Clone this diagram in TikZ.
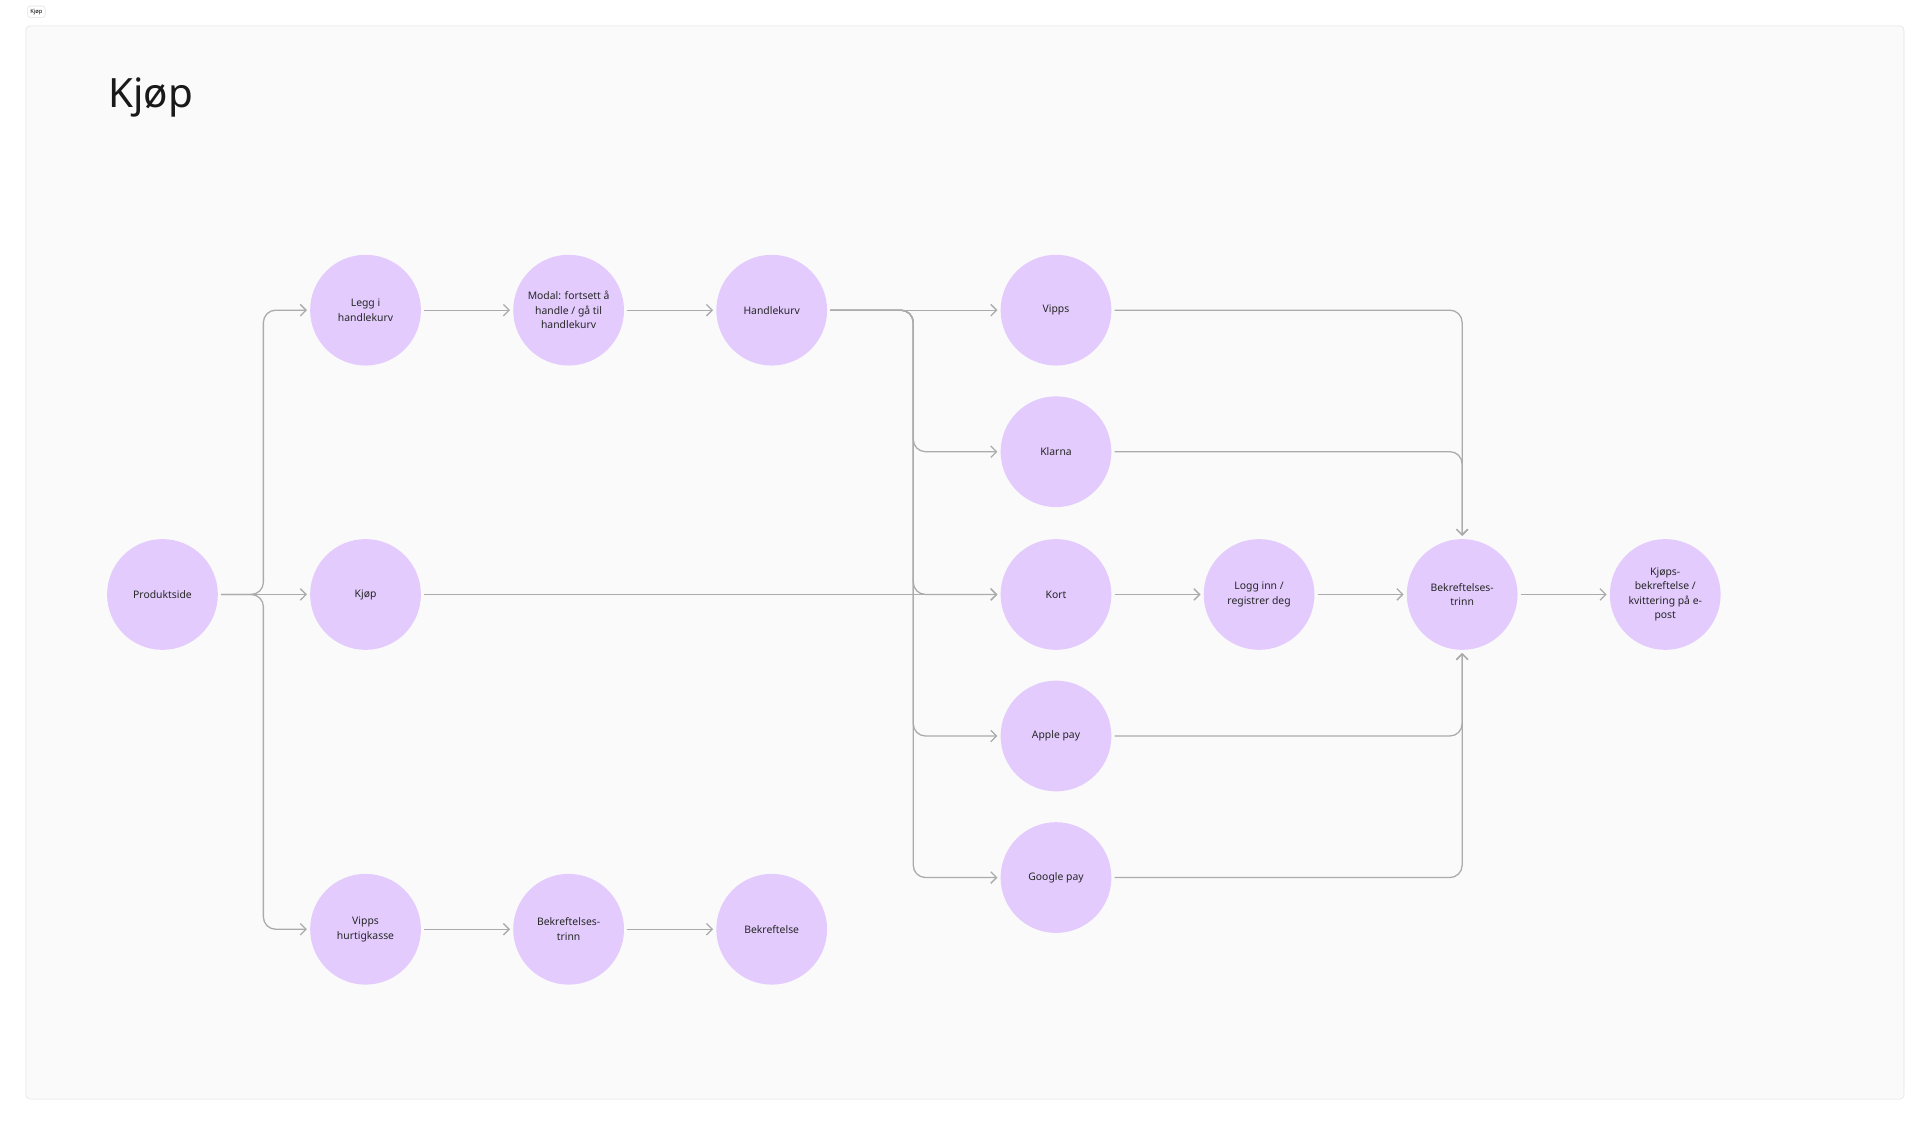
\documentclass[tikz,border=0pt]{standalone}
\usepackage{fontspec}
\setmainfont{Noto Sans}
\usetikzlibrary{arrows.meta}
\definecolor{circfill}{HTML}{E3CCFD}
\definecolor{linegray}{HTML}{ABABAB}
\definecolor{framebg}{HTML}{FAFAFA}
\definecolor{frameline}{HTML}{E2E2E2}
\tikzset{
  stepnode/.style={circle,fill=circfill,minimum size=2.7cm,inner sep=0pt,align=center,
    font=\fontsize{7.2}{10}\selectfont,text=black!85},
  flow/.style={draw=linegray,line width=0.9pt,rounded corners=0.3cm,
    -{Straight Barb[length=4pt,width=8pt]},shorten >=2pt,shorten <=2pt}
}
\begin{document}
\begin{tikzpicture}[x=0.03cm,y=-0.03cm]
\useasboundingbox (0,0) rectangle (1560,911);
\fill[white] (0,0) rectangle (1560,911);
\draw[frameline,fill=framebg,rounded corners=3pt] (21,21) rectangle (1547,893);
\node[draw=frameline,rounded corners=2pt,fill=white,font=\fontsize{4}{5}\selectfont,inner sep=2pt] (tab) at (29.5,9.5) {Kjøp};
\node[anchor=west,font=\fontsize{28}{32}\selectfont,text=black!90] (title) at (84,79) {Kjøp};

% rows
\node[stepnode] (prod) at (132,483) {Produktside};
\node[stepnode] (legg) at (297,252) {Legg i\\handlekurv};
\node[stepnode] (modal) at (462,252) {Modal: fortsett å\\handle / gå til\\handlekurv};
\node[stepnode] (kurv) at (627,252) {Handlekurv};
\node[stepnode] (kjop) at (297,483) {Kjøp};
\node[stepnode] (hurtig) at (297,755) {Vipps\\hurtigkasse};
\node[stepnode] (bekrA) at (462,755) {Bekreftelses-\\trinn};
\node[stepnode] (bekr) at (627,755) {Bekreftelse};
\node[stepnode] (vipps) at (858,252) {Vipps};
\node[stepnode] (klarna) at (858,367) {Klarna};
\node[stepnode] (kort) at (858,483) {Kort};
\node[stepnode] (apple) at (858,598) {Apple pay};
\node[stepnode] (google) at (858,713) {Google pay};
\node[stepnode] (logg) at (1023,483) {Logg inn /\\registrer deg};
\node[stepnode] (bekrB) at (1188,483) {Bekreftelses-\\trinn};
\node[stepnode] (kvitt) at (1353,483) {Kjøps-\\bekreftelse /\\kvittering på e-\\post};

\coordinate (split) at (214,483);
\coordinate (fork) at (742,252);

\draw[flow] (prod) -- (split) |- (legg);
\draw[flow] (prod) -- (kjop);
\draw[flow] (prod.east) -- (split) |- (hurtig);
\draw[flow] (legg) -- (modal);
\draw[flow] (modal) -- (kurv);
\draw[flow] (kurv) -- (vipps);
\foreach \n in {klarna,kort,apple,google}
  \draw[flow] (kurv.east) -- (fork) |- (\n.west);
\draw[flow] (kjop) -- (kort);
\draw[flow] (kort) -- (logg);
\draw[flow] (logg) -- (bekrB);
\draw[flow] (bekrB) -- (kvitt);
\draw[flow] (vipps) -| (bekrB.north);
\draw[flow] (klarna) -| (bekrB.north);
\draw[flow] (apple) -| (bekrB.south);
\draw[flow] (google) -| (bekrB.south);
\draw[flow] (hurtig) -- (bekrA);
\draw[flow] (bekrA) -- (bekr);
\end{tikzpicture}
\end{document}
